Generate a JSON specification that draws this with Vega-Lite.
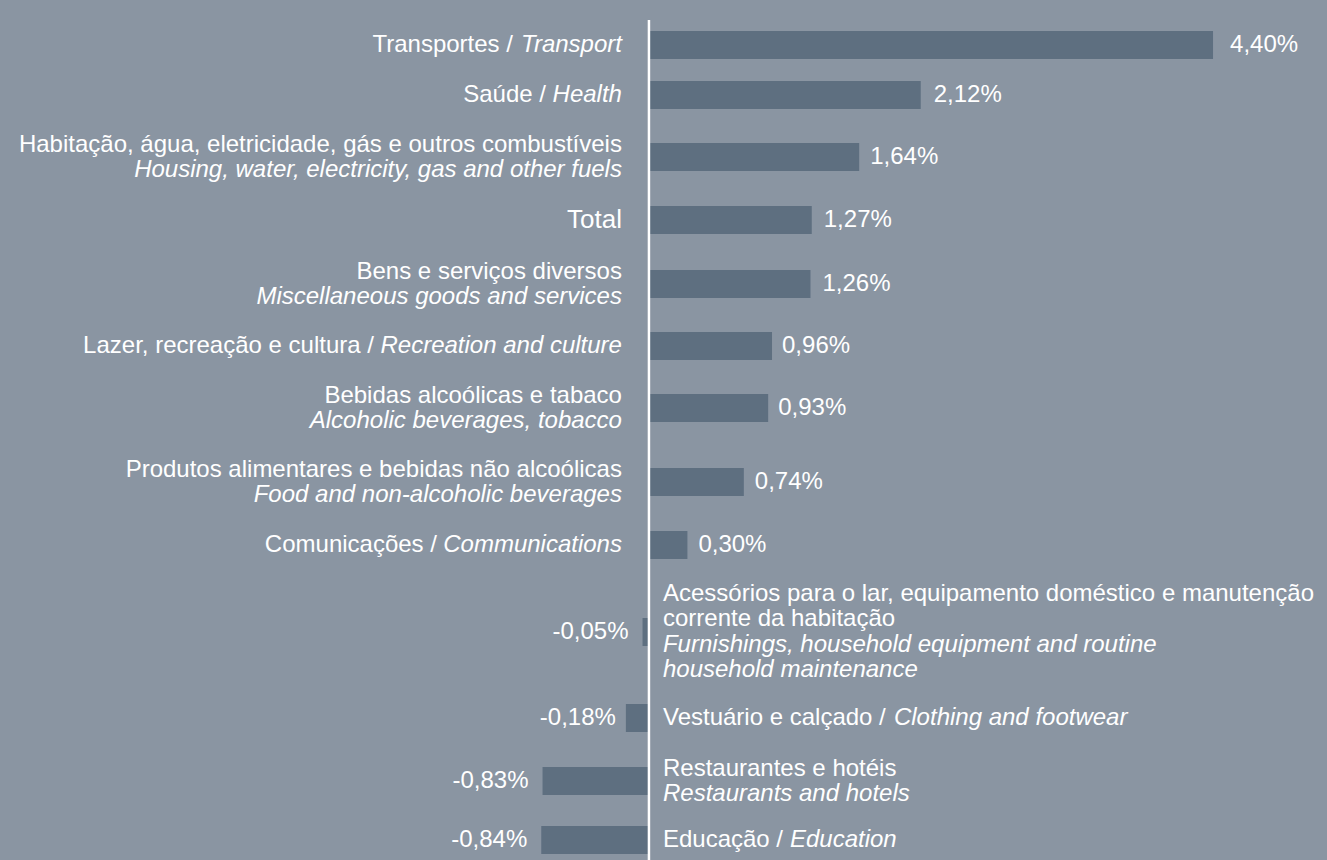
{
  "$schema": "https://vega.github.io/schema/vega-lite/v6.json",
  "background": "#8a95a2",
  "padding": {"top": 18, "left": 0, "right": 0, "bottom": 0},
  "spacing": 0,
  "bounds": "flush",
  "config": {
    "view": {"stroke": null},
    "font": "Liberation Sans",
    "text": {"font": "Liberation Sans", "fontSize": 24, "color": "#ffffff", "baseline": "middle"},
    "bar": {"color": "#5e6f80"},
    "concat": {"spacing": 0},
    "locale": {"number": {"decimal": ",", "thousands": ".", "grouping": [3], "currency": ["", " €"], "minus": "-"}}
  },
  "resolve": {"scale": {"y": "independent", "x": "shared"}},
  "data": {"values": [
    {"id": "transport", "pt": "Transportes", "en": "Transport", "v": 0.0440},
    {"id": "health", "pt": "Saúde", "en": "Health", "v": 0.0212},
    {"id": "housing", "pt": "Habitação, água, eletricidade, gás e outros combustíveis", "en": "Housing, water, electricity, gas and other fuels", "v": 0.0164},
    {"id": "total", "pt": "Total", "en": "", "v": 0.0127},
    {"id": "misc", "pt": "Bens e serviços diversos", "en": "Miscellaneous goods and services", "v": 0.0126},
    {"id": "recreation", "pt": "Lazer, recreação e cultura", "en": "Recreation and culture", "v": 0.0096},
    {"id": "alcohol", "pt": "Bebidas alcoólicas e tabaco", "en": "Alcoholic beverages, tobacco", "v": 0.0093},
    {"id": "food", "pt": "Produtos alimentares e bebidas não alcoólicas", "en": "Food and non-alcoholic beverages", "v": 0.0074},
    {"id": "comm", "pt": "Comunicações", "en": "Communications", "v": 0.0030},
    {"id": "furnish", "pt": "Acessórios para o lar, equipamento doméstico e manutenção\ncorrente da habitação", "en": "Furnishings, household equipment and routine\nhousehold maintenance", "v": -0.0005},
    {"id": "clothing", "pt": "Vestuário e calçado", "en": "Clothing and footwear", "v": -0.0018},
    {"id": "restaurants", "pt": "Restaurantes e hotéis", "en": "Restaurants and hotels", "v": -0.0083},
    {"id": "education", "pt": "Educação", "en": "Education", "v": -0.0084}
  ]},
  "transform": [{"calculate": "datum.pt + ' /'", "as": "pt_slash"}],
  "vconcat": [
    {
      "width": 1327, "height": 50,
      "transform": [{"filter": "datum.id == 'transport'"}],
      "encoding": {
        "x": {"field": "v", "type": "quantitative", "scale": {"domain": [-0.05062, 0.05289], "nice": false, "zero": false}, "axis": null},
        "y": {"field": "id", "type": "nominal", "axis": null}
      },
      "layer": [
        {"mark": {"type": "bar", "height": 28}},
        {"mark": {"type": "text", "align": "left", "dx": 17}, "encoding": {"text": {"field": "v", "type": "quantitative", "format": ".2%"}}},
        {"mark": {"type": "text", "align": "right", "dx": -27, "fontStyle": "italic"}, "encoding": {"x": {"datum": 0}, "text": {"field": "en"}}},
        {"mark": {"type": "text", "align": "right", "dx": -136}, "encoding": {"x": {"datum": 0}, "text": {"field": "pt_slash"}}},
        {"mark": {"type": "rule", "color": "#ffffff", "strokeWidth": 2.5}, "encoding": {"x": {"datum": 0}, "y": {"value": 0}, "y2": {"value": "height"}}}
      ]
    },
    {
      "width": 1327, "height": 50,
      "transform": [{"filter": "datum.id == 'health'"}],
      "encoding": {
        "x": {"field": "v", "type": "quantitative", "scale": {"domain": [-0.05062, 0.05289], "nice": false, "zero": false}, "axis": null},
        "y": {"field": "id", "type": "nominal", "axis": null}
      },
      "layer": [
        {"mark": {"type": "bar", "height": 28}},
        {"mark": {"type": "text", "align": "left", "dx": 13}, "encoding": {"text": {"field": "v", "type": "quantitative", "format": ".2%"}}},
        {"mark": {"type": "text", "align": "right", "dx": -27, "fontStyle": "italic"}, "encoding": {"x": {"datum": 0}, "text": {"field": "en"}}},
        {"mark": {"type": "text", "align": "right", "dx": -103}, "encoding": {"x": {"datum": 0}, "text": {"field": "pt_slash"}}},
        {"mark": {"type": "rule", "color": "#ffffff", "strokeWidth": 2.5}, "encoding": {"x": {"datum": 0}, "y": {"value": 0}, "y2": {"value": "height"}}}
      ]
    },
    {
      "width": 1327, "height": 74,
      "transform": [{"filter": "datum.id == 'housing'"}],
      "encoding": {
        "x": {"field": "v", "type": "quantitative", "scale": {"domain": [-0.05062, 0.05289], "nice": false, "zero": false}, "axis": null},
        "y": {"field": "id", "type": "nominal", "axis": null}
      },
      "layer": [
        {"mark": {"type": "bar", "height": 28}},
        {"mark": {"type": "text", "align": "left", "dx": 11}, "encoding": {"text": {"field": "v", "type": "quantitative", "format": ".2%"}}},
        {"mark": {"type": "text", "align": "right", "dx": -27, "dy": -12.5}, "encoding": {"x": {"datum": 0}, "text": {"field": "pt"}}},
        {"mark": {"type": "text", "align": "right", "dx": -27, "dy": 12.5, "fontStyle": "italic"}, "encoding": {"x": {"datum": 0}, "text": {"field": "en"}}},
        {"mark": {"type": "rule", "color": "#ffffff", "strokeWidth": 2.5}, "encoding": {"x": {"datum": 0}, "y": {"value": 0}, "y2": {"value": "height"}}}
      ]
    },
    {
      "width": 1327, "height": 52,
      "transform": [{"filter": "datum.id == 'total'"}],
      "encoding": {
        "x": {"field": "v", "type": "quantitative", "scale": {"domain": [-0.05062, 0.05289], "nice": false, "zero": false}, "axis": null},
        "y": {"field": "id", "type": "nominal", "axis": null}
      },
      "layer": [
        {"mark": {"type": "bar", "height": 28}},
        {"mark": {"type": "text", "align": "left", "dx": 12}, "encoding": {"text": {"field": "v", "type": "quantitative", "format": ".2%"}}},
        {"mark": {"type": "text", "align": "right", "dx": -27, "fontSize": 26}, "encoding": {"x": {"datum": 0}, "text": {"field": "pt"}}},
        {"mark": {"type": "rule", "color": "#ffffff", "strokeWidth": 2.5}, "encoding": {"x": {"datum": 0}, "y": {"value": 0}, "y2": {"value": "height"}}}
      ]
    },
    {
      "width": 1327, "height": 76,
      "transform": [{"filter": "datum.id == 'misc'"}],
      "encoding": {
        "x": {"field": "v", "type": "quantitative", "scale": {"domain": [-0.05062, 0.05289], "nice": false, "zero": false}, "axis": null},
        "y": {"field": "id", "type": "nominal", "axis": null}
      },
      "layer": [
        {"mark": {"type": "bar", "height": 28}},
        {"mark": {"type": "text", "align": "left", "dx": 12}, "encoding": {"text": {"field": "v", "type": "quantitative", "format": ".2%"}}},
        {"mark": {"type": "text", "align": "right", "dx": -27, "dy": -12.5}, "encoding": {"x": {"datum": 0}, "text": {"field": "pt"}}},
        {"mark": {"type": "text", "align": "right", "dx": -27, "dy": 12.5, "fontStyle": "italic"}, "encoding": {"x": {"datum": 0}, "text": {"field": "en"}}},
        {"mark": {"type": "rule", "color": "#ffffff", "strokeWidth": 2.5}, "encoding": {"x": {"datum": 0}, "y": {"value": 0}, "y2": {"value": "height"}}}
      ]
    },
    {
      "width": 1327, "height": 48,
      "transform": [{"filter": "datum.id == 'recreation'"}],
      "encoding": {
        "x": {"field": "v", "type": "quantitative", "scale": {"domain": [-0.05062, 0.05289], "nice": false, "zero": false}, "axis": null},
        "y": {"field": "id", "type": "nominal", "axis": null}
      },
      "layer": [
        {"mark": {"type": "bar", "height": 28}},
        {"mark": {"type": "text", "align": "left", "dx": 10}, "encoding": {"text": {"field": "v", "type": "quantitative", "format": ".2%"}}},
        {"mark": {"type": "text", "align": "right", "dx": -27, "fontStyle": "italic"}, "encoding": {"x": {"datum": 0}, "text": {"field": "en"}}},
        {"mark": {"type": "text", "align": "right", "dx": -275}, "encoding": {"x": {"datum": 0}, "text": {"field": "pt_slash"}}},
        {"mark": {"type": "rule", "color": "#ffffff", "strokeWidth": 2.5}, "encoding": {"x": {"datum": 0}, "y": {"value": 0}, "y2": {"value": "height"}}}
      ]
    },
    {
      "width": 1327, "height": 76,
      "transform": [{"filter": "datum.id == 'alcohol'"}],
      "encoding": {
        "x": {"field": "v", "type": "quantitative", "scale": {"domain": [-0.05062, 0.05289], "nice": false, "zero": false}, "axis": null},
        "y": {"field": "id", "type": "nominal", "axis": null}
      },
      "layer": [
        {"mark": {"type": "bar", "height": 28}},
        {"mark": {"type": "text", "align": "left", "dx": 10}, "encoding": {"text": {"field": "v", "type": "quantitative", "format": ".2%"}}},
        {"mark": {"type": "text", "align": "right", "dx": -27, "dy": -12.5}, "encoding": {"x": {"datum": 0}, "text": {"field": "pt"}}},
        {"mark": {"type": "text", "align": "right", "dx": -27, "dy": 12.5, "fontStyle": "italic"}, "encoding": {"x": {"datum": 0}, "text": {"field": "en"}}},
        {"mark": {"type": "rule", "color": "#ffffff", "strokeWidth": 2.5}, "encoding": {"x": {"datum": 0}, "y": {"value": 0}, "y2": {"value": "height"}}}
      ]
    },
    {
      "width": 1327, "height": 72,
      "transform": [{"filter": "datum.id == 'food'"}],
      "encoding": {
        "x": {"field": "v", "type": "quantitative", "scale": {"domain": [-0.05062, 0.05289], "nice": false, "zero": false}, "axis": null},
        "y": {"field": "id", "type": "nominal", "axis": null}
      },
      "layer": [
        {"mark": {"type": "bar", "height": 28}},
        {"mark": {"type": "text", "align": "left", "dx": 11}, "encoding": {"text": {"field": "v", "type": "quantitative", "format": ".2%"}}},
        {"mark": {"type": "text", "align": "right", "dx": -27, "dy": -12.5}, "encoding": {"x": {"datum": 0}, "text": {"field": "pt"}}},
        {"mark": {"type": "text", "align": "right", "dx": -27, "dy": 12.5, "fontStyle": "italic"}, "encoding": {"x": {"datum": 0}, "text": {"field": "en"}}},
        {"mark": {"type": "rule", "color": "#ffffff", "strokeWidth": 2.5}, "encoding": {"x": {"datum": 0}, "y": {"value": 0}, "y2": {"value": "height"}}}
      ]
    },
    {
      "width": 1327, "height": 54,
      "transform": [{"filter": "datum.id == 'comm'"}],
      "encoding": {
        "x": {"field": "v", "type": "quantitative", "scale": {"domain": [-0.05062, 0.05289], "nice": false, "zero": false}, "axis": null},
        "y": {"field": "id", "type": "nominal", "axis": null}
      },
      "layer": [
        {"mark": {"type": "bar", "height": 28}},
        {"mark": {"type": "text", "align": "left", "dx": 11}, "encoding": {"text": {"field": "v", "type": "quantitative", "format": ".2%"}}},
        {"mark": {"type": "text", "align": "right", "dx": -27, "fontStyle": "italic"}, "encoding": {"x": {"datum": 0}, "text": {"field": "en"}}},
        {"mark": {"type": "text", "align": "right", "dx": -212}, "encoding": {"x": {"datum": 0}, "text": {"field": "pt_slash"}}},
        {"mark": {"type": "rule", "color": "#ffffff", "strokeWidth": 2.5}, "encoding": {"x": {"datum": 0}, "y": {"value": 0}, "y2": {"value": "height"}}}
      ]
    },
    {
      "width": 1327, "height": 120,
      "transform": [{"filter": "datum.id == 'furnish'"}],
      "encoding": {
        "x": {"field": "v", "type": "quantitative", "scale": {"domain": [-0.05062, 0.05289], "nice": false, "zero": false}, "axis": null},
        "y": {"field": "id", "type": "nominal", "axis": null}
      },
      "layer": [
        {"mark": {"type": "bar", "height": 28}},
        {"mark": {"type": "text", "align": "right", "dx": -14}, "encoding": {"text": {"field": "v", "type": "quantitative", "format": ".2%"}}},
        {"mark": {"type": "text", "align": "left", "dx": 14, "dy": -38, "lineBreak": "\n", "lineHeight": 25}, "encoding": {"x": {"datum": 0}, "text": {"field": "pt"}}},
        {"mark": {"type": "text", "align": "left", "dx": 14, "dy": 13, "lineBreak": "\n", "lineHeight": 25, "fontStyle": "italic"}, "encoding": {"x": {"datum": 0}, "text": {"field": "en"}}},
        {"mark": {"type": "rule", "color": "#ffffff", "strokeWidth": 2.5}, "encoding": {"x": {"datum": 0}, "y": {"value": 0}, "y2": {"value": "height"}}}
      ]
    },
    {
      "width": 1327, "height": 52,
      "transform": [{"filter": "datum.id == 'clothing'"}],
      "encoding": {
        "x": {"field": "v", "type": "quantitative", "scale": {"domain": [-0.05062, 0.05289], "nice": false, "zero": false}, "axis": null},
        "y": {"field": "id", "type": "nominal", "axis": null}
      },
      "layer": [
        {"mark": {"type": "bar", "height": 28}},
        {"mark": {"type": "text", "align": "right", "dx": -10}, "encoding": {"text": {"field": "v", "type": "quantitative", "format": ".2%"}}},
        {"mark": {"type": "text", "align": "left", "dx": 14}, "encoding": {"x": {"datum": 0}, "text": {"field": "pt_slash"}}},
        {"mark": {"type": "text", "align": "left", "dx": 245, "fontStyle": "italic"}, "encoding": {"x": {"datum": 0}, "text": {"field": "en"}}},
        {"mark": {"type": "rule", "color": "#ffffff", "strokeWidth": 2.5}, "encoding": {"x": {"datum": 0}, "y": {"value": 0}, "y2": {"value": "height"}}}
      ]
    },
    {
      "width": 1327, "height": 74,
      "transform": [{"filter": "datum.id == 'restaurants'"}],
      "encoding": {
        "x": {"field": "v", "type": "quantitative", "scale": {"domain": [-0.05062, 0.05289], "nice": false, "zero": false}, "axis": null},
        "y": {"field": "id", "type": "nominal", "axis": null}
      },
      "layer": [
        {"mark": {"type": "bar", "height": 28}},
        {"mark": {"type": "text", "align": "right", "dx": -14}, "encoding": {"text": {"field": "v", "type": "quantitative", "format": ".2%"}}},
        {"mark": {"type": "text", "align": "left", "dx": 14, "dy": -12.5}, "encoding": {"x": {"datum": 0}, "text": {"field": "pt"}}},
        {"mark": {"type": "text", "align": "left", "dx": 14, "dy": 12.5, "fontStyle": "italic"}, "encoding": {"x": {"datum": 0}, "text": {"field": "en"}}},
        {"mark": {"type": "rule", "color": "#ffffff", "strokeWidth": 2.5}, "encoding": {"x": {"datum": 0}, "y": {"value": 0}, "y2": {"value": "height"}}}
      ]
    },
    {
      "width": 1327, "height": 44,
      "transform": [{"filter": "datum.id == 'education'"}],
      "encoding": {
        "x": {"field": "v", "type": "quantitative", "scale": {"domain": [-0.05062, 0.05289], "nice": false, "zero": false}, "axis": null},
        "y": {"field": "id", "type": "nominal", "axis": null}
      },
      "layer": [
        {"mark": {"type": "bar", "height": 28}},
        {"mark": {"type": "text", "align": "right", "dx": -14}, "encoding": {"text": {"field": "v", "type": "quantitative", "format": ".2%"}}},
        {"mark": {"type": "text", "align": "left", "dx": 14}, "encoding": {"x": {"datum": 0}, "text": {"field": "pt_slash"}}},
        {"mark": {"type": "text", "align": "left", "dx": 141, "fontStyle": "italic"}, "encoding": {"x": {"datum": 0}, "text": {"field": "en"}}},
        {"mark": {"type": "rule", "color": "#ffffff", "strokeWidth": 2.5}, "encoding": {"x": {"datum": 0}, "y": {"value": 0}, "y2": {"value": "height"}}}
      ]
    }
  ]
}
